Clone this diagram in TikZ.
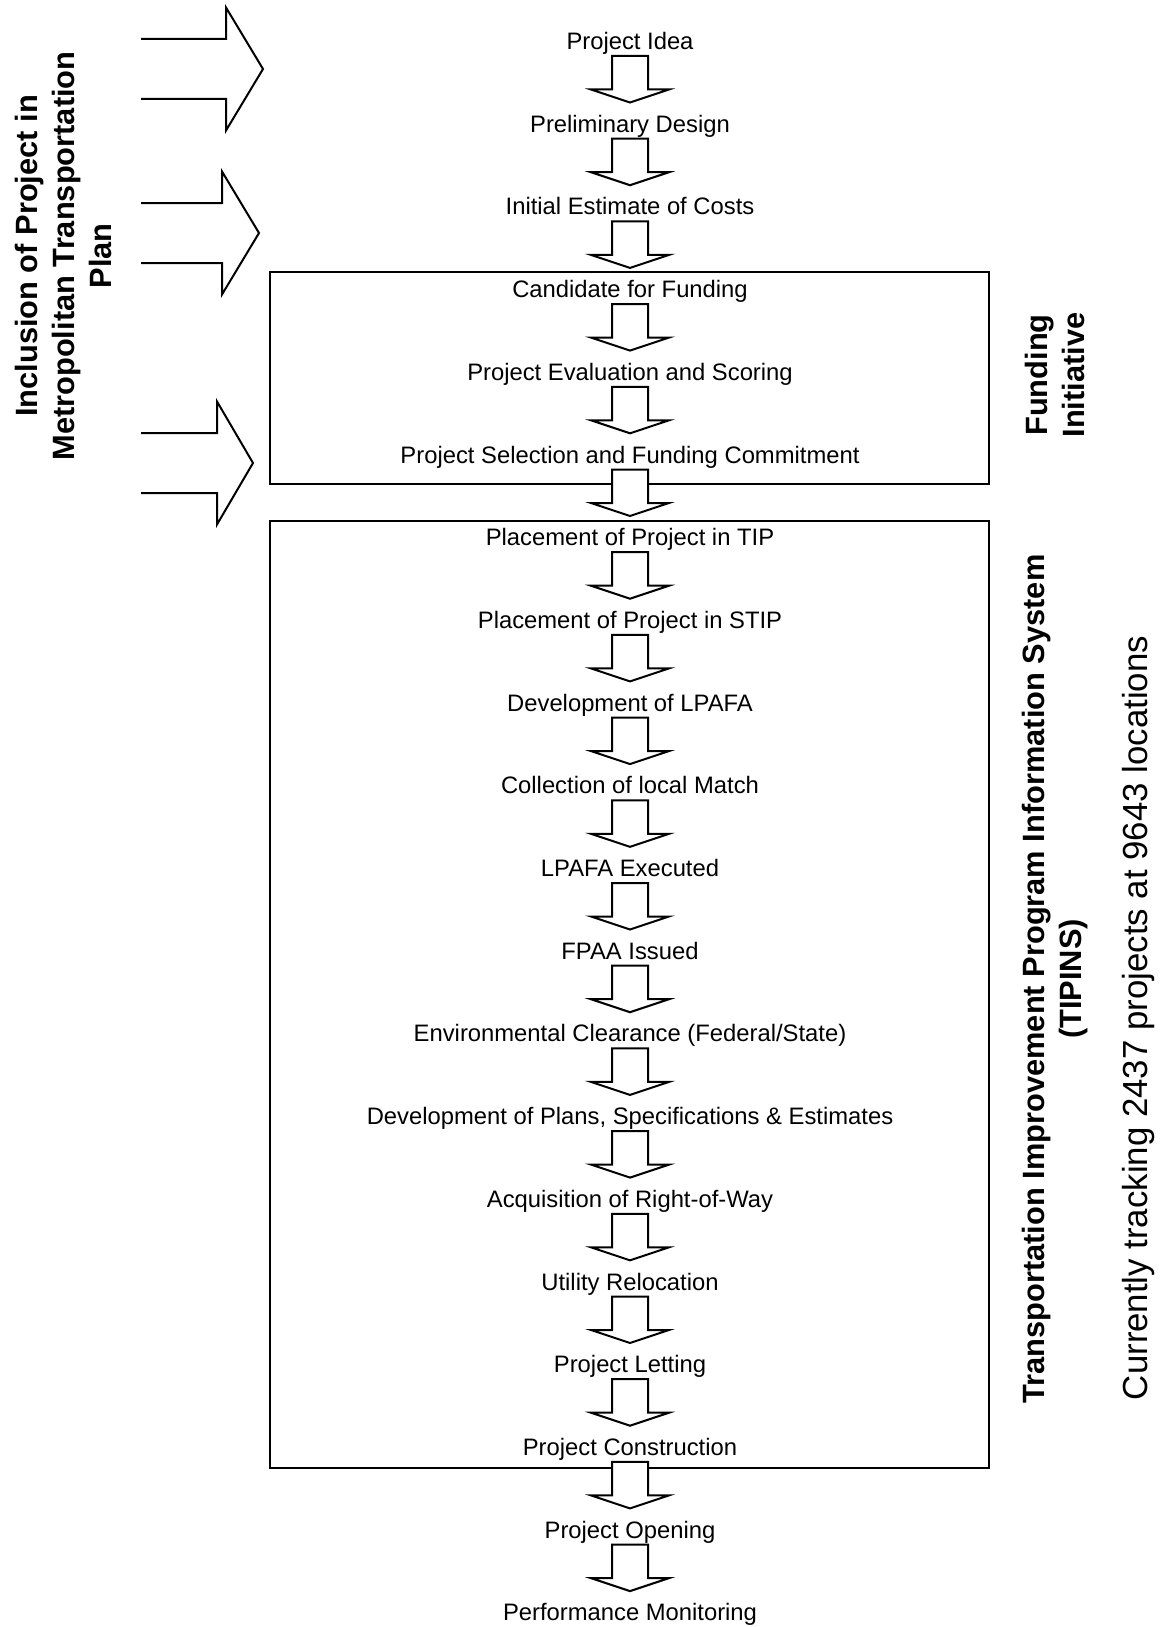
\documentclass[tikz,border=0pt]{standalone}
\usepackage{fontspec}
\setmainfont{Liberation Sans}
\usetikzlibrary{calc}
\tikzset{stepnode/.style={inner sep=0pt,text height=8.5pt,text depth=2.5pt,font=\fontsize{11.9}{14}\selectfont},
blockarr/.style={draw,fill=white,line width=1pt,line join=miter},
sidelabel/.style={rotate=90,align=center,inner sep=0pt,font=\fontsize{15.4}{18.5}\selectfont\bfseries}}
\begin{document}
\begin{tikzpicture}[x=0.5pt,y=-0.5pt]
\useasboundingbox(0,0)rectangle(1160,1627);
\draw[line width=1pt](270,272)rectangle(989,484);\draw[line width=1pt](270,521)rectangle(989,1468);
\foreach\t[count=\i]in{Project Idea,Preliminary Design,Initial Estimate of Costs,Candidate for Funding,Project Evaluation and Scoring,Project Selection and Funding Commitment,Placement of Project in TIP,Placement of Project in STIP,Development of LPAFA,Collection of local Match,LPAFA Executed,FPAA Issued,Environmental Clearance (Federal/State),{Development of Plans, Specifications \& Estimates},Acquisition of Right-of-Way,Utility Relocation,Project Letting,Project Construction,Project Opening,Performance Monitoring}
{\node[stepnode](s\i)at(630,{43.5+82.7*(\i-1)}){\t};}
\foreach\i[evaluate=\i as\j using int(\i+1)]in{1,...,19}
{\draw[blockarr]($(s\i)+(-18,12.5)$)--($(s\j)+(-18,-36.7)$)--++(-21,0)--($(s\j)+(0,-23.7)$)--++(39,-13)--++(-21,0)--($(s\i)+(18,12.5)$)--cycle;}
\foreach\e/\c/\p in{226/69/263,222/233/259,217/463/253}
{\draw[line width=1pt,line join=miter](141,\c-30)--(\e,\c-30)--(\e,\c-61.5)--(\p,\c)--(\e,\c+61.5)--(\e,\c+30)--(141,\c+30);}
\node[sidelabel](mtp)at(63,256){Inclusion of Project in\\Metropolitan Transportation\\Plan};
\node[sidelabel](fund)at(1055,375){Funding\\Initiative};
\node[sidelabel](tipins)at(1055,979){Transportation Improvement Program Information System\\(TIPINS)};
\node[rotate=90,inner sep=0pt,font=\fontsize{17.4}{20}\selectfont](track)at(1138,1018){Currently tracking 2437 projects at 9643 locations};
\end{tikzpicture}
\end{document}
